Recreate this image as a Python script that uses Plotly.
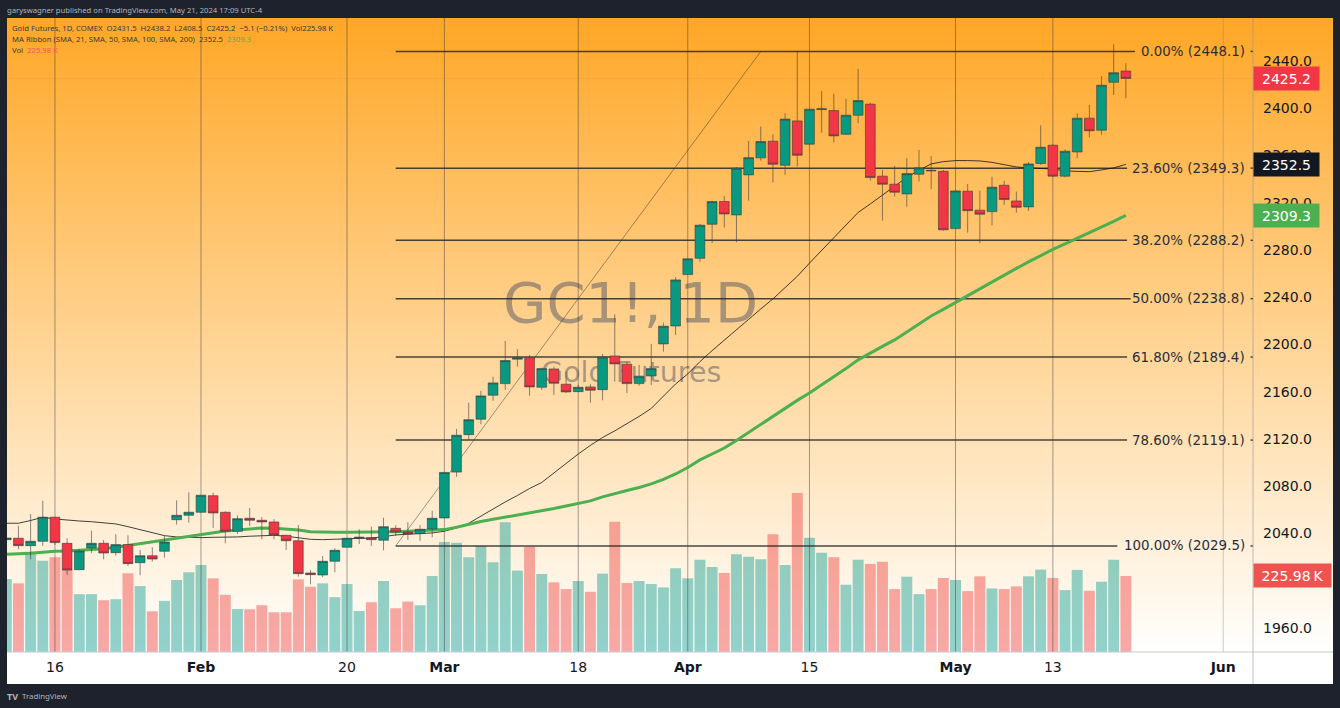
import plotly.graph_objects as go

# daily bars, Jan 9 to May 21 2024
opens = [2034.8, 2036.0, 2029.7, 2033.4, 2053.8, 2031.7, 2009.4, 2027.8, 2031.7, 2023.8,
         2030.6, 2015.3, 2021.2, 2025.0, 2051.7, 2055.4, 2058.0, 2072.0, 2058.0, 2041.9,
         2052.9, 2051.2, 2049.8, 2038.5, 2033.9, 2006.6, 2004.9, 2016.5, 2028.4, 2036.2,
         2036.5, 2034.3, 2044.4, 2041.3, 2039.9, 2043.8, 2053.2, 2092.0, 2123.7, 2136.8,
         2157.1, 2166.9, 2187.6, 2188.9, 2163.8, 2179.3, 2166.4, 2160.1, 2164.1, 2161.8,
         2190.3, 2183.3, 2166.9, 2173.4, 2200.5, 2215.7, 2259.2, 2273.0, 2301.8, 2321.0,
         2309.7, 2343.6, 2358.0, 2372.1, 2351.8, 2389.3, 2369.6, 2398.9, 2398.0, 2378.0,
         2394.1, 2403.5, 2342.5, 2335.7, 2327.5, 2344.2, 2347.5, 2346.6, 2298.1, 2329.8,
         2313.7, 2312.5, 2334.8, 2321.5, 2316.5, 2353.2, 2368.7, 2342.5, 2363.0, 2391.6,
         2381.4, 2422.0, 2431.5]
highs = [2038.0, 2046.6, 2056.5, 2067.6, 2054.0, 2036.0, 2026.7, 2042.4, 2034.5, 2039.4,
         2038.5, 2026.1, 2028.4, 2037.9, 2068.1, 2074.9, 2072.6, 2074.6, 2058.8, 2055.4,
         2061.6, 2053.8, 2052.1, 2038.8, 2047.2, 2009.1, 2021.0, 2027.5, 2036.2, 2043.6,
         2045.8, 2053.4, 2047.0, 2049.5, 2047.2, 2059.3, 2092.1, 2128.5, 2150.8, 2160.7,
         2172.8, 2203.0, 2196.0, 2191.2, 2180.4, 2181.3, 2177.0, 2165.8, 2166.6, 2192.0,
         2225.6, 2185.3, 2182.7, 2200.5, 2218.5, 2257.0, 2273.0, 2302.1, 2321.6, 2325.8,
         2350.3, 2372.4, 2384.5, 2378.0, 2395.8, 2448.8, 2399.5, 2414.7, 2412.2, 2407.9,
         2433.2, 2404.8, 2347.8, 2351.2, 2357.7, 2364.7, 2359.5, 2347.8, 2330.9, 2335.9,
         2330.3, 2342.1, 2338.7, 2329.4, 2354.3, 2385.4, 2369.4, 2365.2, 2395.8, 2402.9,
         2427.3, 2454.2, 2438.2]
lows = [2033.0, 2026.7, 2018.2, 2029.5, 2030.3, 2004.9, 2009.1, 2023.3, 2018.2, 2021.2,
        2012.5, 2004.6, 2016.2, 2019.6, 2047.5, 2049.2, 2057.4, 2044.7, 2031.7, 2039.6,
        2046.4, 2035.1, 2035.1, 2026.1, 2003.5, 1997.0, 2003.0, 2007.2, 2028.3, 2031.1,
        2029.5, 2025.8, 2037.9, 2034.5, 2033.7, 2036.8, 2052.7, 2088.0, 2119.2, 2132.5,
        2152.3, 2161.6, 2181.3, 2156.7, 2161.6, 2157.3, 2158.8, 2159.9, 2150.8, 2152.8,
        2168.6, 2158.8, 2165.0, 2165.8, 2194.0, 2208.1, 2258.9, 2269.9, 2285.8, 2299.0,
        2286.6, 2321.8, 2355.7, 2337.0, 2343.6, 2350.6, 2369.4, 2379.4, 2371.0, 2377.4,
        2387.4, 2338.7, 2304.9, 2325.2, 2316.7, 2337.9, 2331.5, 2296.3, 2297.8, 2294.7,
        2285.8, 2300.9, 2318.2, 2311.6, 2313.1, 2352.1, 2341.9, 2341.4, 2357.8, 2375.4,
        2377.6, 2411.2, 2408.5]
closes = [2036.2, 2029.7, 2033.4, 2053.8, 2032.3, 2009.1, 2025.2, 2031.7, 2023.5, 2030.6,
          2014.5, 2021.2, 2018.4, 2032.8, 2055.4, 2058.0, 2072.4, 2057.4, 2041.9, 2052.6,
          2051.2, 2049.8, 2038.8, 2033.9, 2006.0, 2005.2, 2016.5, 2025.8, 2036.0, 2036.8,
          2034.8, 2045.8, 2041.3, 2039.6, 2043.6, 2052.9, 2091.7, 2123.2, 2136.4, 2156.5,
          2167.5, 2186.4, 2188.9, 2164.1, 2179.6, 2167.2, 2159.9, 2163.8, 2161.3, 2189.3,
          2183.6, 2166.9, 2173.2, 2179.6, 2215.5, 2254.7, 2272.5, 2301.0, 2321.0, 2310.5,
          2349.2, 2358.2, 2371.8, 2352.6, 2390.8, 2360.2, 2399.2, 2399.5, 2376.6, 2394.1,
          2406.5, 2341.3, 2335.7, 2328.9, 2344.7, 2349.5, 2347.1, 2297.1, 2330.0, 2313.3,
          2310.3, 2333.2, 2322.7, 2316.2, 2352.9, 2367.0, 2342.5, 2363.6, 2391.6, 2380.9,
          2419.5, 2430.1, 2425.2]
volumes = [217, 204, 298, 271, 282, 244, 172, 172, 154, 157,
           234, 196, 121, 152, 214, 237, 259, 219, 170, 128,
           127, 139, 118, 118, 216, 194, 204, 163, 202, 122,
           148, 211, 130, 150, 139, 226, 327, 325, 282, 315,
           267, 386, 242, 313, 232, 207, 187, 211, 179, 233,
           387, 205, 211, 202, 192, 249, 219, 274, 253, 235,
           291, 283, 276, 350, 259, 473, 340, 295, 282, 200,
           274, 262, 268, 187, 224, 172, 187, 220, 214, 181,
           225, 189, 187, 195, 225, 245, 220, 184, 244, 182,
           209, 274, 225.98]
ma21 = [2048.7, 2048.7, 2051.0, 2053.8, 2052.3, 2051.2, 2050.6, 2050.0, 2048.9, 2048.1,
        2045.8, 2043.3, 2040.7, 2038.2, 2037.1, 2036.5, 2036.5, 2036.8, 2036.8, 2037.1,
        2037.7, 2038.2, 2038.5, 2037.7, 2036.2, 2035.1, 2034.8, 2035.1, 2035.4, 2035.6,
        2036.2, 2037.3, 2038.8, 2039.4, 2039.9, 2040.5, 2041.9, 2044.7, 2048.7, 2054.9,
        2060.8, 2066.7, 2072.2, 2078.1, 2083.2, 2091.3, 2099.7, 2107.3, 2114.6, 2121.3,
        2126.9, 2132.8, 2139.1, 2145.9, 2156.1, 2166.6, 2175.1, 2185.5, 2194.8, 2203.4,
        2212.1, 2221.3, 2230.1, 2238.6, 2248.2, 2257.7, 2268.9, 2279.7, 2290.7, 2301.3,
        2311.8, 2319.0, 2326.7, 2334.3, 2341.5, 2347.4, 2352.9, 2354.8, 2355.7, 2355.7,
        2355.4, 2354.2, 2352.5, 2350.3, 2349.5, 2349.2, 2348.6, 2346.9, 2346.3, 2346.3,
        2347.8, 2349.5, 2352.5]
ma50 = [2022.4, 2022.7, 2023.3, 2024.1, 2025.0, 2025.2, 2025.8, 2026.7, 2027.2, 2028.4,
        2030.0, 2031.1, 2032.6, 2034.3, 2036.0, 2037.7, 2039.4, 2041.0, 2042.2, 2043.0,
        2044.1, 2044.7, 2044.4, 2043.8, 2043.0, 2041.6, 2041.0, 2041.0, 2041.0, 2041.0,
        2041.0, 2041.3, 2041.6, 2041.9, 2042.2, 2042.7, 2043.3, 2045.3, 2047.8, 2050.1,
        2052.0, 2053.8, 2055.4, 2057.1, 2059.1, 2061.2, 2063.3, 2065.3, 2067.6, 2071.0,
        2073.9, 2076.4, 2079.0, 2082.0, 2085.8, 2090.4, 2095.9, 2102.3, 2107.3, 2112.4,
        2118.8, 2125.6, 2132.8, 2139.6, 2146.3, 2152.7, 2159.0, 2165.8, 2172.6, 2179.6,
        2187.0, 2192.9, 2198.4, 2203.9, 2210.7, 2217.4, 2224.2, 2229.7, 2235.6, 2241.1,
        2247.1, 2253.0, 2258.5, 2264.4, 2269.9, 2275.4, 2280.5, 2285.2, 2289.8, 2294.7,
        2299.6, 2304.2, 2309.3]

fib_pcts = ["0.00", "23.60", "38.20", "50.00", "61.80", "78.60", "100.00"]
fib_prices = [2448.1, 2349.3, 2288.2, 2238.8, 2189.4, 2119.1, 2029.5]
fib_ends = [92.74, 92.1, 92.1, 92.4, 92.1, 92.1, 91.3]

tick_bars = [4, 16, 28, 36, 47, 56, 66, 78, 86, 100]
tick_labels = ["16", "<b>Feb</b>", "20", "<b>Mar</b>", "18", "<b>Apr</b>", "15", "<b>May</b>", "13", "<b>Jun</b>"]

FONT = "DejaVu Sans"
SMALL_FONT = "Noto Sans"
UP = "#089981"
DOWN = "#f23645"
WIDTH, HEIGHT = 1340, 708
LEFT, RIGHT, TOP, BOTTOM = 7, 1333, 18, 684
PLOT_BOTTOM = 652
AXIS_X = 1253
PRICE_RANGE = [1939.7, 2476.4]
VOLUME_RANGE = [0, 1885]
X_RANGE = [0.06, 109.02]
FIB_START = 32
FIB_TOP_BAR = 62


def px_x(x):
    return (x - LEFT) / (RIGHT - LEFT)


def px_y(y):
    return (BOTTOM - y) / (BOTTOM - TOP)


bars = list(range(len(closes)))
vol_colors = ["rgba(38,166,154,0.5)" if c >= o else "rgba(239,83,80,0.5)" for o, c in zip(opens, closes)]
axis_bar = X_RANGE[0] + (X_RANGE[1] - X_RANGE[0]) * px_x(AXIS_X)

fig = go.Figure()

# orange to white backdrop, running under the price scale too
fig.add_trace(go.Heatmap(
    x=X_RANGE, y=VOLUME_RANGE, z=[[0, 0], [1, 1]], zmin=0, zmax=1, zsmooth="best", showscale=False, yaxis="y",
    colorscale=[[0, "rgb(255,255,255)"], [1, "rgb(255,167,38)"]],
))

fig.add_trace(go.Bar(x=bars, y=volumes, marker=dict(color=vol_colors, line=dict(width=0)), width=0.9, yaxis="y"))

# watermark sits under everything drawn in price space
fig.add_trace(go.Scatter(
    x=[51.3, 51.35], y=[2224.9, 2174.2], yaxis="y2", mode="text",
    text=["<span style='font-size:56px'>GC1!, 1D</span>", "<span style='font-size:28.5px'>Gold Futures</span>"],
    textposition="middle center",
    textfont=dict(family=FONT, size=28, color="rgba(80,85,100,0.5)"),
))

# faint scale grid line on Jun, drawn lines on the other dated ticks
fig.add_trace(go.Scatter(x=[tick_bars[-1], tick_bars[-1]], y=PRICE_RANGE, yaxis="y2", mode="lines",
                         line=dict(color="rgba(130,130,130,0.4)", width=1)))
vx, vy = [], []
for t in tick_bars[:-1]:
    vx += [t, t, None]
    vy += [PRICE_RANGE[0], PRICE_RANGE[1], None]
fig.add_trace(go.Scatter(x=vx, y=vy, yaxis="y2", mode="lines", line=dict(color="rgba(50,50,50,0.45)", width=1)))

fig.add_trace(go.Scatter(x=[X_RANGE[0], axis_bar], y=[closes[-1], closes[-1]], yaxis="y2", mode="lines",
                         line=dict(color="rgba(242,54,69,0.1)", width=1)))

fx, fy = [], []
for price, end in zip(fib_prices, fib_ends):
    fx += [FIB_START, end, None, axis_bar - 0.2, axis_bar, None]
    fy += [price, price, None, price, price, None]
fig.add_trace(go.Scatter(x=fx, y=fy, yaxis="y2", mode="lines", line=dict(color="rgba(40,40,40,0.85)", width=1.5)))
fig.add_trace(go.Scatter(x=[FIB_START, FIB_TOP_BAR], y=[fib_prices[-1], fib_prices[0]], yaxis="y2", mode="lines",
                         line=dict(color="rgba(50,50,50,0.6)", width=0.8)))

fig.add_trace(go.Scatter(x=bars, y=ma21, yaxis="y2", mode="lines", line=dict(color="rgba(20,20,20,0.8)", width=1)))
fig.add_trace(go.Scatter(x=bars, y=ma50, yaxis="y2", mode="lines", line=dict(color="#4caf50", width=3)))

fig.add_trace(go.Candlestick(
    x=bars, open=opens, high=highs, low=lows, close=closes, yaxis="y3",
    increasing=dict(fillcolor=UP, line=dict(color="rgba(60,60,60,0.6)", width=1)),
    decreasing=dict(fillcolor=DOWN, line=dict(color="rgba(60,60,60,0.6)", width=1)),
    whiskerwidth=0,
))

shapes = [
    dict(type="rect", xref="paper", yref="paper", x0=0, x1=1, y0=0, y1=px_y(PLOT_BOTTOM),
         fillcolor="white", line=dict(width=0), layer="below"),
    dict(type="line", xref="paper", yref="paper", x0=0, x1=1, y0=px_y(PLOT_BOTTOM), y1=px_y(PLOT_BOTTOM),
         line=dict(color="#c9cbd1", width=1), layer="above"),
    dict(type="line", xref="paper", yref="paper", x0=px_x(AXIS_X), x1=px_x(AXIS_X), y0=0, y1=1,
         line=dict(color="rgba(150,150,150,0.6)", width=1), layer="above"),
]

annotations = []


def note(text, x, y, size, color, bold=False):
    if bold:
        text = "<b>" + text + "</b>"
    annotations.append(dict(text=text, x=px_x(x - 2), y=px_y(y), xref="paper", yref="paper", xanchor="left",
                            yanchor="middle", showarrow=False, align="left",
                            font=dict(family=SMALL_FONT, size=size, color=color)))


note("garyswagner published on TradingView.com, May 21, 2024 17:09 UTC-4", 7, 10, 7.65, "#b2b5be")
note("Gold Futures, 1D, COMEX  O2431.5  H2438.2  L2408.5  C2425.2  −5.1 (−0.21%)  Vol225.98 K", 12, 28, 7.7, "#3a3a3a")
note("MA Ribbon (SMA, 21, SMA, 50, SMA, 100, SMA, 200)  2352.5  <span style='color:#4caf50'>2309.3</span>",
     12, 39, 7.7, "#3a3a3a")
note("Vol  <span style='color:#f7525f'>225.98 K</span>", 12, 50, 7.7, "#3a3a3a")
note("TV", 7, 696, 9, "#b2b5be", bold=True)
note("TradingView", 22, 696, 7.8, "#b2b5be")

for pct, price in zip(fib_pcts, fib_prices):
    annotations.append(dict(text="%s%% (%.1f)" % (pct, price), x=px_x(1247), y=price, xref="paper", yref="y3",
                            xanchor="right", yanchor="middle", showarrow=False,
                            font=dict(family=FONT, size=13.4, color="#2a2e39")))


def tag(text, y, yref, color, width=65):
    annotations.append(dict(text=text, x=px_x(AXIS_X), y=y, xref="paper", yref=yref, xanchor="left", yanchor="middle",
                            showarrow=False, bgcolor=color, width=width, height=23, borderpad=0, align="center",
                            font=dict(family=FONT, size=14, color="white")))


tag("%.1f" % closes[-1], closes[-1], "y3", DOWN)
tag("%.1f" % ma21[-1], ma21[-1], "y3", "#131722")
tag("%.1f" % ma50[-1], ma50[-1], "y3", "#4caf50")
tag("%.2f\u2009K" % volumes[-1], volumes[-1], "y", "#ef5350", width=77)

fig.update_layout(
    width=WIDTH, height=HEIGHT,
    margin=dict(l=LEFT, r=WIDTH - RIGHT, t=TOP, b=HEIGHT - BOTTOM, autoexpand=False),
    paper_bgcolor="#1e222d", plot_bgcolor="rgba(0,0,0,0)",
    showlegend=False, hovermode=False, boxgap=0.2, boxgroupgap=0,
    shapes=shapes, annotations=annotations,
    font=dict(family=FONT, color="#131722"),
    xaxis=dict(range=X_RANGE, domain=[0, 1], tickmode="array", tickvals=tick_bars, ticktext=tick_labels,
               showgrid=False, zeroline=False, ticks="", showline=False,
               tickfont=dict(family=FONT, size=14, color="#131722"), ticklabelstandoff=5, rangeslider=dict(visible=False),
               automargin=False),
    yaxis=dict(range=VOLUME_RANGE, domain=[px_y(PLOT_BOTTOM), 1], visible=False),
    yaxis2=dict(range=PRICE_RANGE, overlaying="y", visible=False),
    yaxis3=dict(range=PRICE_RANGE, overlaying="y", side="right", anchor="free", position=px_x(AXIS_X),
                tickmode="linear", tick0=1960, dtick=40, tickformat=".1f", showgrid=False, zeroline=False,
                showline=False, ticks="", tickfont=dict(family=FONT, size=14, color="#131722"),
                ticklabelstandoff=9, automargin=False),
)

fig.write_html("out.html", config=dict(displayModeBar=False), post_script="document.body.style.margin='0';")
